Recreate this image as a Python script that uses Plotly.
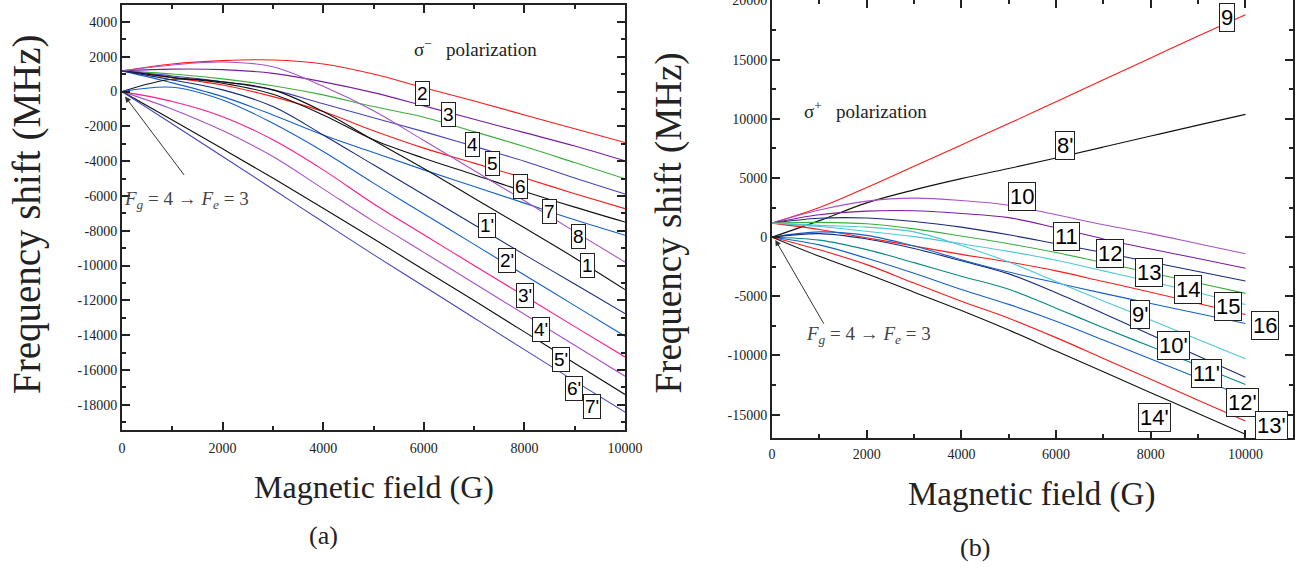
import plotly.graph_objects as go

# ---------------- data ----------------
B = [0, 1000, 2000, 3000, 4000, 5000, 6000, 7000, 8000, 9000, 10000]

# panel (a): sigma- polarization, frequency shift (MHz)
A_RED2 = [1190, 1590, 1780, 1820, 1590, 1010, 220, -540, -1340, -2140, -2930]
A_PUR3 = [1190, 1290, 1260, 1050, 560, -60, -820, -1590, -2360, -3130, -3980]
A_GRN4 = [1190, 1010, 730, 340, -190, -860, -1470, -2300, -3160, -4080, -5010]
A_SLT5 = [1190, 900, 570, 100, -700, -1500, -2300, -3150, -4000, -4970, -5890]
A_RED6 = [1190, 800, 380, -290, -1150, -2250, -3250, -4110, -4970, -5870, -6730]
A_BLK6 = [1190, 820, 480, -150, -1340, -2770, -3830, -4780, -5740, -6640, -7500]
A_BLU7 = [1190, 500, -290, -1340, -2490, -3500, -4500, -5450, -6410, -7370, -8260]
A_ORC8 = [1190, 1530, 1700, 1430, 300, -1100, -2810, -4540, -6270, -8050, -9800]
A_BLK1 = [0, 710, 560, 100, -1150, -2800, -4420, -6130, -7830, -9560, -11380]
A_NAV1P = [1190, 670, 100, -860, -2490, -4210, -5930, -7650, -9370, -11060, -12760]
A_BLU2P = [0, 250, -480, -1820, -3440, -5260, -7020, -8780, -10540, -12300, -14060]
A_MAG3P = [0, -570, -1440, -2770, -4500, -6450, -8230, -9990, -11750, -13510, -15250]
A_ORC4P = [0, -1010, -2240, -3730, -5590, -7460, -9240, -11020, -12800, -14580, -16360]
A_BLK5P = [0, -1630, -3290, -4970, -6700, -8460, -10240, -12010, -13810, -15610, -17410]
A_SLT7P = [0, -1860, -3730, -5610, -7500, -9370, -11190, -13010, -14830, -16640, -18420]

# panel (b): sigma+ polarization
B_RED9 = [1190, 2500, 4200, 6000, 7800, 9600, 11450, 13300, 15150, 17000, 18800]
B_BLK8P = [0, 1400, 2900, 4000, 4950, 5800, 6700, 7620, 8550, 9470, 10380]
B_ORC10 = [1190, 2300, 3050, 3300, 3100, 2700, 1900, 1050, 300, -550, -1400]
B_PUR11 = [1190, 1900, 2200, 2230, 2000, 1650, 800, -150, -1000, -1800, -2630]
B_NAV12 = [1190, 1600, 1620, 1330, 850, 200, -550, -1300, -2100, -2900, -3700]
B_GRN13 = [1190, 1250, 1130, 700, 100, -550, -1300, -2150, -3000, -3880, -4750]
B_CYN14 = [1190, 900, 500, 50, -550, -1200, -1950, -2850, -3750, -4700, -5690]
B_RED15 = [1190, 650, -50, -750, -1450, -2100, -2850, -3750, -4650, -5600, -6540]
B_BLU16 = [0, 450, 150, -750, -1900, -2950, -3850, -4750, -5600, -6450, -7300]
B_CYN9P = [1190, 1000, 850, 450, -700, -2100, -3750, -5400, -7000, -8650, -10270]
B_NAV10P = [0, 300, -150, -950, -2000, -3100, -4700, -6450, -8250, -10050, -11830]
B_TEA11P = [0, -250, -1050, -2150, -3300, -4400, -6000, -7650, -9250, -10850, -12450]
B_BLU12P = [0, -650, -1780, -3050, -4420, -5680, -7100, -8700, -10300, -11900, -13500]
B_RED13P = [0, -1070, -2320, -3880, -5420, -6850, -8490, -10250, -12010, -13780, -15540]
B_BLK14P = [0, -1620, -3090, -4650, -6200, -7850, -9620, -11380, -13140, -14900, -16660]

# tick labels
X_TICKS = [0, 2000, 4000, 6000, 8000, 10000]
YA_TICKS = [4000, 2000, 0, -2000, -4000, -6000, -8000, -10000, -12000, -14000, -16000, -18000]
YB_TICKS = [20000, 15000, 10000, 5000, 0, -5000, -10000, -15000]

# curve labels (text, field, shift)
LABELS_A = [("2", 5965, -92), ("3", 6483, -1337), ("4", 6962, -3059), ("5", 7361, -4149),
            ("6", 7925, -5469), ("7", 8490, -6887), ("8", 9076, -8322), ("1'", 7261, -7690),
            ("1", 9256, -9986), ("2'", 7646, -9699), ("3'", 8011, -11708), ("4'", 8330, -13676),
            ("5'", 8723, -15398), ("6'", 8977, -17062), ("7'", 9342, -18112)]
LABELS_B = [("9", 9613, 18565), ("8'", 6186, 7716), ("10", 5282, 3421), ("11", 6218, 93),
            ("12", 7141, -1375), ("13", 7972, -2963), ("14", 8796, -4431), ("15", 9630, -5900),
            ("16", 10406, -7487), ("9'", 7782, -6528), ("10'", 8479, -9143), ("11'", 9176, -11503),
            ("12'", 9930, -13998), ("13'", 10550, -15891), ("14'", 8082, -15272)]

# ---------------- styles ----------------
RED = "#ff1a1a"; PUR = "#7a1c9e"; GRN = "#3cae3c"; SLT = "#4444bb"; BLK = "#111111"
BLU = "#1560c8"; ORC = "#a653c6"; NAV = "#1a2a7a"; MAG = "#ff1a8c"; CYN = "#4cc8d8"; TEA = "#0a8a80"

series_a = [(A_RED2, RED), (A_PUR3, PUR), (A_GRN4, GRN), (A_SLT5, SLT), (A_RED6, RED),
            (A_BLK6, BLK), (A_BLU7, BLU), (A_ORC8, ORC), (A_BLK1, BLK), (A_NAV1P, NAV),
            (A_BLU2P, BLU), (A_MAG3P, MAG), (A_ORC4P, ORC), (A_BLK5P, BLK), (A_SLT7P, SLT)]
series_b = [(B_RED9, RED), (B_BLK8P, BLK), (B_ORC10, ORC), (B_PUR11, PUR), (B_NAV12, NAV),
            (B_GRN13, GRN), (B_CYN14, CYN), (B_RED15, RED), (B_BLU16, BLU), (B_CYN9P, CYN),
            (B_NAV10P, NAV), (B_TEA11P, TEA), (B_BLU12P, BLU), (B_RED13P, RED), (B_BLK14P, BLK)]

fig = go.Figure()
for ys, c in series_a:
    fig.add_trace(go.Scatter(x=B, y=ys, mode="lines", xaxis="x", yaxis="y",
                             line=dict(color=c, width=1.1, shape="spline", smoothing=1.0),
                             showlegend=False, hoverinfo="skip"))
for ys, c in series_b:
    fig.add_trace(go.Scatter(x=B, y=ys, mode="lines", xaxis="x2", yaxis="y2",
                             line=dict(color=c, width=1.1, shape="spline", smoothing=1.0),
                             showlegend=False, hoverinfo="skip"))

SERIF = "Liberation Serif, Times New Roman, serif"
SANS = "Liberation Sans, Arial, sans-serif"
TICKFONT = dict(family=SERIF, size=14, color="#222")

def axis_common(**kw):
    d = dict(showline=True, linecolor="#222", linewidth=2, mirror="ticks", ticks="inside",
             ticklen=8, tickwidth=1.5, tickcolor="#222", showgrid=False, zeroline=False,
             tickfont=TICKFONT, automargin=False, fixedrange=True, ticklabeloverflow="allow")
    d.update(kw)
    return d

MINOR = dict(tickmode="linear", tick0=0, ticks="inside", ticklen=4, tickcolor="#222")

fig.update_layout(
    width=1308, height=567, margin=dict(l=0, r=0, t=0, b=0),
    paper_bgcolor="white", plot_bgcolor="white",
    xaxis=axis_common(domain=[122/1308, 625/1308], range=[0, 10000], tickmode="array",
                      tickvals=X_TICKS, ticktext=[str(v) for v in X_TICKS], anchor="y",
                      ticklabelstandoff=4, minor=dict(MINOR, dtick=1000)),
    yaxis=axis_common(domain=[1-430/567, 1-4.6/567], range=[-19450, 5000], tickmode="array",
                      tickvals=YA_TICKS, ticktext=[str(v) for v in YA_TICKS], anchor="x",
                      minor=dict(MINOR, dtick=1000)),
    xaxis2=axis_common(domain=[772/1308, 1292.8/1308], range=[0, 11000], tickmode="array",
                       tickvals=X_TICKS, ticktext=[str(v) for v in X_TICKS], anchor="y2",
                       ticklabelstandoff=2, minor=dict(MINOR, dtick=1000)),
    yaxis2=axis_common(domain=[1-438.3/567, 1-0.1/567], range=[-17000, 20040], tickmode="array",
                       tickvals=YB_TICKS, ticktext=[str(v) for v in YB_TICKS], anchor="x2",
                       minor=dict(MINOR, dtick=2500)),
)

ann = []
for t, x, y in LABELS_A:
    ann.append(dict(text=t, x=x, y=y, xref="x", yref="y", showarrow=False,
                    font=dict(family=SANS, size=19, color="black"), bgcolor="white",
                    bordercolor="#222", borderwidth=1, borderpad=1))
for t, x, y in LABELS_B:
    ann.append(dict(text=t, x=x, y=y, xref="x2", yref="y2", showarrow=False,
                    font=dict(family=SANS, size=22, color="black"), bgcolor="white",
                    bordercolor="#222", borderwidth=1, borderpad=1))

# polarization texts
ann.append(dict(text="σ<sup>−</sup>\u00a0\u00a0\u00a0polarization", x=7018, y=2508, xref="x", yref="y",
                showarrow=False, font=dict(family=SERIF, size=19, color="#222")))
ann.append(dict(text="σ<sup>+</sup>\u00a0\u00a0\u00a0polarization", x=1965, y=10756, xref="x2", yref="y2",
                showarrow=False, font=dict(family=SERIF, size=19, color="#222")))

FTXT = "<i>F</i><sub><i>g</i></sub> = 4 → <i>F</i><sub><i>e</i></sub> = 3"
ann.append(dict(text=FTXT, x=1292, y=-6215, xref="x", yref="y", showarrow=False,
                font=dict(family=SERIF, size=19, color="#444")))
ann.append(dict(text=FTXT, x=2028, y=-8277, xref="x2", yref="y2", showarrow=False,
                font=dict(family=SERIF, size=19, color="#444")))
# arrows to origin
ann.append(dict(text="", x=60, y=-280, xref="x", yref="y", ax=1257, ay=-4878, axref="x", ayref="y",
                showarrow=True, arrowhead=2, arrowsize=1.2, arrowwidth=1, arrowcolor="#333"))
ann.append(dict(text="", x=70, y=-230, xref="x2", yref="y2", ax=1113, ay=-7445, axref="x2", ayref="y2",
                showarrow=True, arrowhead=2, arrowsize=1.2, arrowwidth=1, arrowcolor="#333"))

# axis titles and panel letters
def paper_text(text, px, py, size, angle=0):
    return dict(text=text, x=px/1308, y=1-py/567, xref="paper", yref="paper",
                xanchor="center", yanchor="middle", textangle=angle, showarrow=False,
                font=dict(family=SERIF, size=size, color="#222"))

ann.append(paper_text("Frequency shift (MHz)", 27, 214, 39, -90))
ann.append(paper_text("Frequency shift (MHz)", 668, 223.5, 37, -90))
ann.append(paper_text("Magnetic field (G)", 374, 487, 32))
ann.append(paper_text("Magnetic field (G)", 1031, 494, 33))
ann.append(paper_text("(a)", 323, 535, 26))
ann.append(paper_text("(b)", 975, 547, 26))

fig.update_layout(annotations=ann)
fig.write_html("out.html")
